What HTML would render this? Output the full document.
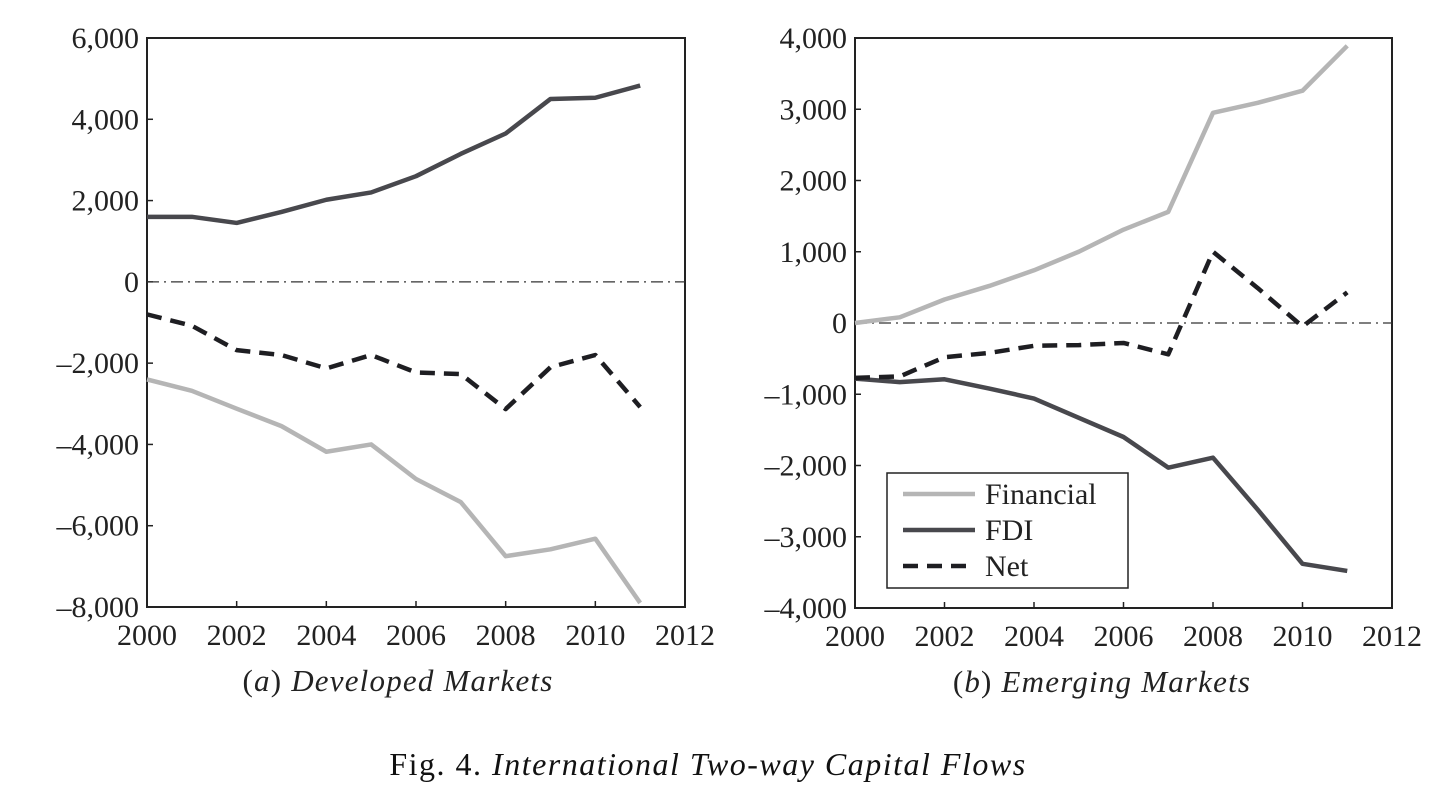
<!DOCTYPE html>
<html><head><meta charset="utf-8">
<style>
html,body{margin:0;padding:0;background:#fff;}
svg{display:block;font-family:"Liberation Serif",serif;}
</style></head>
<body>
<svg id="chart" width="1435" height="793" viewBox="0 0 1435 793" xmlns="http://www.w3.org/2000/svg"></svg>
<script>
const years = [2000,2001,2002,2003,2004,2005,2006,2007,2008,2009,2010,2011];
const devFinancial = [-2400,-2680,-3120,-3550,-4180,-4000,-4850,-5420,-6750,-6580,-6320,-7900];
const devFDI = [1600,1600,1450,1720,2020,2200,2600,3150,3650,4500,4530,4830];
const devNet = [-800,-1080,-1680,-1800,-2130,-1800,-2230,-2270,-3130,-2100,-1800,-3080];
const emFinancial = [0,80,330,520,740,1000,1310,1560,2950,3090,3260,3890];
const emFDI = [-780,-830,-790,-920,-1060,-1330,-1600,-2030,-1890,-2620,-3380,-3480];
const emNet = [-770,-750,-480,-420,-320,-310,-280,-440,1000,490,-50,430];
const xTicks = [2000,2002,2004,2006,2008,2010,2012];
const devYTicks = [6000,4000,2000,0,-2000,-4000,-6000,-8000];
const emYTicks = [4000,3000,2000,1000,0,-1000,-2000,-3000,-4000];

const NS="http://www.w3.org/2000/svg";
const svg=document.getElementById('chart');
function mk(tag,attrs,parent){const e=document.createElementNS(NS,tag);for(const k in attrs)e.setAttribute(k,attrs[k]);(parent||svg).appendChild(e);return e;}
function fmt(v){const s=Math.abs(v).toLocaleString('en-US');return v<0?'\u2013'+s:s;}

function panel(id,x0,x1,y0,y1,ymin,ymax,yTicks,fin,fdi,net,caption,letter,capX){
  const g=mk('g',{});
  
  
  const xs=v=>x0+(v-2000)/12*(x1-x0);
  const ys=v=>y0+(ymax-v)/(ymax-ymin)*(y1-y0);
  const frame=mk('rect',{x:x0,y:y0,width:x1-x0,height:y1-y0,fill:'none',stroke:'#222','stroke-width':2},g);
  
  
  yTicks.forEach(v=>{
    const t=mk('text',{x:x0-8,y:ys(v)+10,'text-anchor':'end','font-size':30,fill:'#222'},g);
    t.textContent=fmt(v);
    
    
    mk('line',{x1:x0,x2:x0+6,y1:ys(v),y2:ys(v),stroke:'#222','stroke-width':1.5},g);
  });
  xTicks.forEach(v=>{
    const t=mk('text',{x:xs(v),y:y1+38,'text-anchor':'middle','font-size':30,fill:'#222'},g);
    t.textContent=v;
    
    
    mk('line',{x1:xs(v),x2:xs(v),y1:y1,y2:y1-6,stroke:'#222','stroke-width':1.5},g);
  });
  const z=mk('line',{x1:x0,x2:x1,y1:ys(0),y2:ys(0),stroke:'#333','stroke-width':1.3,'stroke-dasharray':'12,5,2,5'},g);
  
  
  function line(data,color,dash,name){
    const p=mk('polyline',{points:data.map((v,i)=>xs(years[i])+','+ys(v)).join(' '),fill:'none',stroke:color,'stroke-width':4.5,'stroke-linejoin':'round'},g);
    if(dash)p.setAttribute('stroke-dasharray',dash);
    
    
  }
  line(fin,'#b5b5b5',null,id+'-financial-line');
  line(fdi,'#48484d',null,id+'-fdi-line');
  line(net,'#1e1e22','15,9',id+'-net-line');
  const c=mk('text',{x:capX,y:y1+84,'text-anchor':'middle','font-size':31,'letter-spacing':1.2,fill:'#222'},g);
  
  
  c.innerHTML='(<tspan font-style="italic">'+letter+'</tspan>) <tspan font-style="italic">'+caption+'</tspan>';
  return {xs,ys,g};
}
panel('developed',147,685,38,607,-8000,6000,devYTicks,devFinancial,devFDI,devNet,'Developed Markets','a',398);
panel('emerging',855,1392,38,608,-4000,4000,emYTicks,emFinancial,emFDI,emNet,'Emerging Markets','b',1102);

const lg=mk('g',{});


mk('rect',{x:887,y:473,width:241,height:115,fill:'#fff',stroke:'#222','stroke-width':1.5},lg);
const items=[['Financial','#b5b5b5',null],['FDI','#48484d',null],['Net','#1e1e22','15,9']];
items.forEach((it,i)=>{
  const y=494+i*36;
  const l=mk('line',{x1:903,x2:975,y1:y,y2:y,stroke:it[1],'stroke-width':4.5},lg);
  if(it[2])l.setAttribute('stroke-dasharray',it[2]);
  
  
  const t=mk('text',{x:985,y:y+10,'font-size':30,fill:'#222'},lg);
  t.textContent=it[0];
  
  
});

const fig=mk('text',{x:708,y:775,'text-anchor':'middle','font-size':32,'letter-spacing':1.5,fill:'#111'});


fig.innerHTML='Fig. 4. <tspan font-style="italic">International Two-way Capital Flows</tspan>';
</script>
</body></html>
